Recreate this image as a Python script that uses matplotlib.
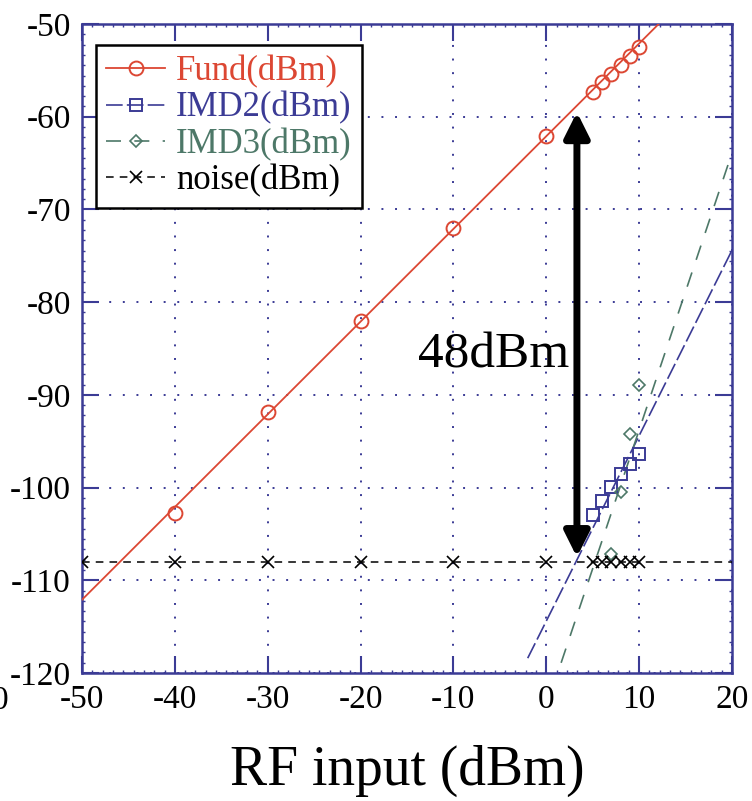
import matplotlib
matplotlib.use("Agg")
import matplotlib.pyplot as plt
from matplotlib.lines import Line2D
from matplotlib.ticker import MultipleLocator, AutoMinorLocator

plt.rcParams['font.family'] = ['Liberation Serif', 'DejaVu Serif']
plt.rcParams['axes.unicode_minus'] = False

# measured points
fund_x = [-40, -30, -20, -10, 0, 5, 6, 7, 8, 9, 10]
fund_y = [-102.7, -91.9, -82.0, -72.0, -62.1, -57.3, -56.3, -55.4, -54.4, -53.4, -52.5]

imd2_x = [5, 6, 7, 8, 9, 10]
imd2_y = [-103.0, -101.4, -99.9, -98.5, -97.5, -96.4]

imd3_x = [7, 8, 9, 10]
imd3_y = [-107.2, -100.5, -94.2, -88.9]

noise_x = [-50, -40, -30, -20, -10, 0, 5, 6, 7, 8, 9, 10]
noise_y = [-108] * len(noise_x)

# fitted lines (end points)
fund_fit_x = [-50, 12.1]
fund_fit_y = [-112.1, -50.0]
imd2_fit_x = [-2, 20]
imd2_fit_y = [-118.4, -74.4]
imd3_fit_x = [1.6, 20]
imd3_fit_y = [-118.9, -63.9]
noise_fit_x = [-50, 20]
noise_fit_y = [-108, -108]

# 48 dB gap between fund and noise
gap_x = 3.3
gap_top = -59.5
gap_bottom = -107.5

red = '#dc4733'
blue = '#3b3b95'
green = '#4d7868'

fig = plt.figure(figsize=(7.52, 8.01), dpi=100)
ax = fig.add_axes([0.109, 0.1598, 0.8644, 0.8102])

ax.plot(fund_fit_x, fund_fit_y, color=red, lw=1.3, zorder=3)
ax.plot(fund_x, fund_y, ls='none', marker='o', ms=10, mfc='none', mec=red, mew=1.4, zorder=4)

l2, = ax.plot(imd2_fit_x, imd2_fit_y, color=blue, lw=1.2, zorder=3)
l2.set_dashes((10, 2.5))
ax.plot(imd2_x, imd2_y, ls='none', marker='s', ms=9, mfc='none', mec=blue, mew=1.4, zorder=4)

l3, = ax.plot(imd3_fit_x, imd3_fit_y, color=green, lw=1.2, zorder=3)
l3.set_dashes((9, 8))
ax.plot(imd3_x, imd3_y, ls='none', marker='D', ms=6, mfc='none', mec=green, mew=1.2, zorder=4)

ln, = ax.plot(noise_fit_x, noise_fit_y, color='black', lw=1.1, zorder=3)
ln.set_dashes((5, 4))
ax.plot(noise_x, noise_y, ls='none', marker='x', ms=9, mec='black', mew=1.2, zorder=4)

# double arrow
ax.annotate('', xy=(gap_x, gap_bottom), xytext=(gap_x, gap_top),
            arrowprops=dict(arrowstyle='<|-|>,head_length=1.5,head_width=0.75',
                            color='black', lw=5, shrinkA=0, shrinkB=0), zorder=5)
ax.text(-5.7, -85.7, '48dBm', fontsize=37, ha='center', va='center', zorder=6)

ax.set_xlim(-50, 20)
ax.set_ylim(-120, -50)
ax.xaxis.set_major_locator(MultipleLocator(10))
ax.yaxis.set_major_locator(MultipleLocator(10))
ax.xaxis.set_minor_locator(AutoMinorLocator(9))
ax.yaxis.set_minor_locator(AutoMinorLocator(9))
ax.tick_params(which='major', direction='in', length=12, width=1.5, color=blue,
               top=True, right=True, labelsize=24, pad=8)
ax.tick_params(which='minor', direction='in', length=2.5, width=1, color=blue,
               top=True, right=True)
for s in ax.spines.values():
    s.set_color(blue)
    s.set_linewidth(1.8)

ax.grid(True, which='major', color=blue, ls=(0, (1, 6)), lw=1.4)
ax.set_axisbelow(True)

ax.set_xlabel('RF input (dBm)', fontsize=40, labelpad=22)

handles = [
    Line2D([], [], color=red, lw=1.3, marker='o', ms=10, mfc='none', mec=red, mew=1.4),
    Line2D([], [], color=blue, lw=1.2, dashes=(10, 2.5), marker='s', ms=9, mfc='none', mec=blue, mew=1.4),
    Line2D([], [], color=green, lw=1.2, dashes=(9, 8), marker='D', ms=6, mfc='none', mec=green, mew=1.2),
    Line2D([], [], color='black', lw=1.1, dashes=(5, 4), marker='x', ms=9, mec='black', mew=1.2),
]
labels = ['Fund(dBm)', 'IMD2(dBm)', 'IMD3(dBm)', 'noise(dBm)']
leg = ax.legend(handles, labels, loc='upper left', bbox_to_anchor=(0.0215, 0.968),
                fontsize=25, frameon=True, fancybox=False, framealpha=1,
                edgecolor='black', handlelength=1.7, handletextpad=0.3,
                labelspacing=0.09, borderpad=0.3, borderaxespad=0)
leg.get_frame().set_linewidth(1.8)
for t, c in zip(leg.get_texts(), [red, blue, green, 'black']):
    t.set_color(c)

fig.text(0.0, 1 - 701 / 801, '0', fontsize=24, ha='center', va='center')

fig.savefig('out.png', dpi=100)
